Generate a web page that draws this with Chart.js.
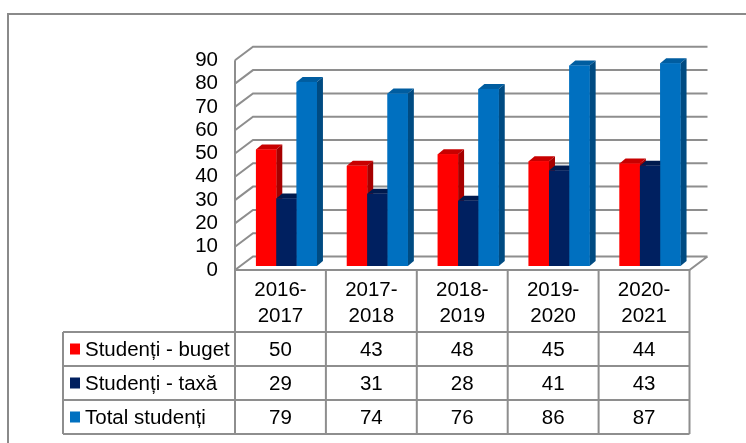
<!DOCTYPE html>
<html><head><meta charset="utf-8">
<script src="https://cdn.jsdelivr.net/npm/chart.js@4/dist/chart.umd.min.js"></script>
<style>html,body{margin:0;padding:0;background:#fff;}canvas{display:block;}</style>
</head><body>
<canvas id="c" width="746" height="443"></canvas>
<script>
// ---- data ----
const categories = [['2016-','2017'],['2017-','2018'],['2018-','2019'],['2019-','2020'],['2020-','2021']];
const seriesNames = ['Studenți - buget','Studenți - taxă','Total studenți'];
const buget = [50,43,48,45,44];
const taxa  = [29,31,28,41,43];
const total = [79,74,76,86,87];
const yMin = 0, yMax = 90, yStep = 10;

// ---- style ----
const FAMILY = '"Liberation Sans", Arial, sans-serif';
const FSIZE = 20.5;
const GRID = '#8e8e8e';
const DX = 18, BACK_DY = 9.5, FRONT_DY = 4, TBL_SHIFT = 6;
const BDX = 6, BDY = 5;
const faces = [
  {front:'#FF0000', top:'#C80000', side:'#A60000'},
  {front:'#002060', top:'#001A4E', side:'#00143E'},
  {front:'#0070C0', top:'#005DA0', side:'#004B82'}
];
const seriesData = [buget, taxa, total];

Chart.defaults.font.family = FAMILY;
Chart.defaults.font.size = FSIZE;
Chart.defaults.color = '#000';

function geom(chart){
  const x = chart.scales.x, y = chart.scales.y;
  const n = categories.length;
  const w = x.width / n;
  const tl = x.getPixelForValue(0) - w/2 - TBL_SHIFT;
  const tr = x.getPixelForValue(n-1) + w/2 - TBL_SHIFT;
  return {x, y, n, w, tl, tr};
}

const threeD = {
  id: 'threeD',
  beforeDatasetsDraw(chart){
    const {ctx} = chart;
    const {y, tl, tr} = geom(chart);
    ctx.save();
    ctx.strokeStyle = GRID; ctx.lineWidth = 2; ctx.lineJoin = 'miter';
    ctx.beginPath();
    for (const t of y.ticks) {
      const p = y.getPixelForValue(t.value);
      ctx.moveTo(tl, p + FRONT_DY);
      ctx.lineTo(tl + DX, p - BACK_DY);
      ctx.lineTo(tr + DX, p - BACK_DY);
    }
    const y0 = y.getPixelForValue(yMin);
    ctx.moveTo(tl, y.getPixelForValue(yMax) + FRONT_DY);
    ctx.lineTo(tl, y0 + FRONT_DY);
    ctx.lineTo(tr, y0 + FRONT_DY);
    ctx.lineTo(tr + DX, y0 - BACK_DY);
    ctx.stroke();
    ctx.restore();
  },
  afterDatasetsDraw(chart){
    const {ctx} = chart;
    const n = categories.length;
    ctx.save();
    for (let i = 0; i < n; i++) {
      chart.data.datasets.forEach((ds, di) => {
        const el = chart.getDatasetMeta(di).data[i];
        const p = el.getProps(['x','y','base','width'], true);
        const l = p.x - p.width/2, r = p.x + p.width/2, top = p.y, base = p.base;
        ctx.fillStyle = faces[di].top;
        ctx.beginPath();
        ctx.moveTo(l, top); ctx.lineTo(l + BDX, top - BDY); ctx.lineTo(r + BDX, top - BDY); ctx.lineTo(r, top);
        ctx.closePath(); ctx.fill();
        ctx.fillStyle = faces[di].side;
        ctx.beginPath();
        ctx.moveTo(r, top); ctx.lineTo(r + BDX, top - BDY); ctx.lineTo(r + BDX, base - BDY); ctx.lineTo(r, base);
        ctx.closePath(); ctx.fill();
        ctx.fillStyle = faces[di].front;
        ctx.fillRect(l, top, p.width, base - top);
      });
    }
    ctx.restore();
  },
  afterDraw(chart){
    const {ctx} = chart;
    const {x, y, n, w, tl, tr} = geom(chart);
    const y0 = y.getPixelForValue(yMin);
    const rowLines = [332, 366, 400, 434];
    const legendLeft = 63;
    ctx.save();
    ctx.strokeStyle = GRID; ctx.lineWidth = 2;
    ctx.beginPath();
    rowLines.forEach(yy => { ctx.moveTo(legendLeft, yy); ctx.lineTo(tr, yy); });
    ctx.moveTo(legendLeft, rowLines[0]); ctx.lineTo(legendLeft, rowLines[rowLines.length-1]);
    for (let k = 0; k <= n; k++) {
      const xx = tl + k * w;
      ctx.moveTo(xx, y0 + FRONT_DY); ctx.lineTo(xx, rowLines[rowLines.length-1]);
    }
    ctx.stroke();
    // text
    ctx.font = FSIZE + 'px ' + FAMILY;
    ctx.fillStyle = '#000';
    ctx.textBaseline = 'middle';
    seriesData.forEach((arr, r) => {
      const cy = (rowLines[r] + rowLines[r+1]) / 2;
      ctx.fillStyle = faces[r].front;
      ctx.fillRect(70, cy - 5.5, 10, 11);
      ctx.fillStyle = '#000';
      ctx.textAlign = 'left';
      ctx.fillText(seriesNames[r], 85, cy + 1);
      ctx.textAlign = 'center';
      arr.forEach((v, i) => {
        ctx.fillText(String(v), x.getPixelForValue(i) - TBL_SHIFT, cy + 1);
      });
    });
    // outer frame
    ctx.strokeStyle = '#8a8a8a'; ctx.lineWidth = 2;
    ctx.strokeRect(8, 14, 900, 600);
    ctx.restore();
  }
};

new Chart(document.getElementById('c'), {
  type: 'bar',
  data: {
    labels: categories,
    datasets: seriesNames.map((name, i) => ({
      label: name,
      data: seriesData[i],
      backgroundColor: faces[i].front,
      borderWidth: 0,
      barPercentage: 1,
      categoryPercentage: 0.671
    }))
  },
  options: {
    responsive: false,
    animation: false,
    devicePixelRatio: 1,
    layout: { padding: { left: 0, right: 50.5, top: 56.3, bottom: 0 } },
    plugins: { legend: { display: false }, tooltip: { enabled: false } },
    scales: {
      x: {
        grid: { display: false, drawTicks: false },
        border: { display: false },
        ticks: { padding: 11, labelOffset: -TBL_SHIFT, maxRotation: 0, minRotation: 0, autoSkip: false,
                 font: { size: FSIZE, lineHeight: 1.27 } },
        afterFit(s) { s.height = 177; }
      },
      y: {
        min: yMin, max: yMax,
        grid: { display: false, drawTicks: false },
        border: { display: false },
        ticks: { stepSize: yStep, padding: 23, labelOffset: FRONT_DY, autoSkip: false },
        afterFit(s) { s.width = 241; }
      }
    }
  },
  plugins: [threeD]
});
</script>
</body></html>
